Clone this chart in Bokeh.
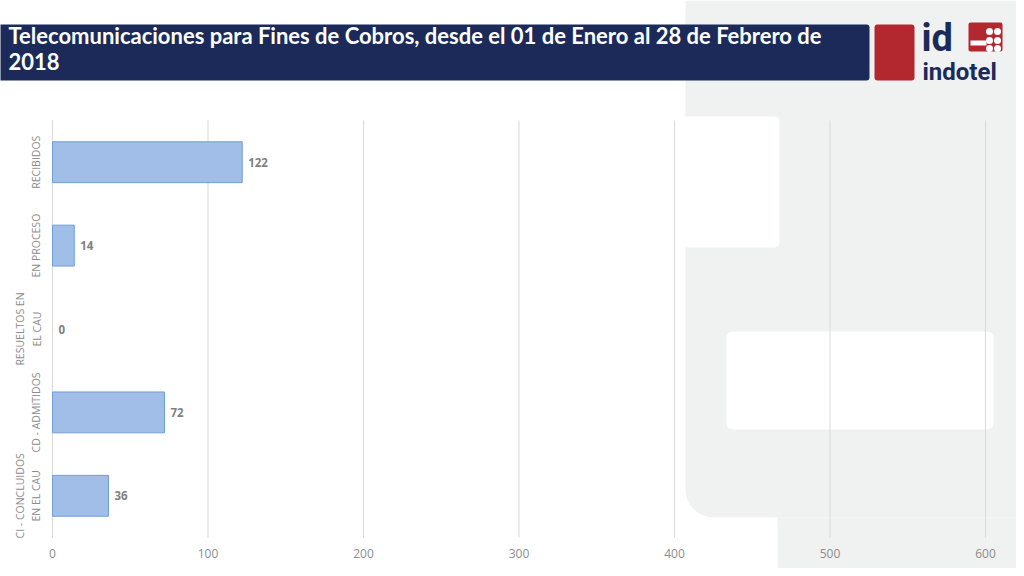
from bokeh.plotting import figure
from bokeh.models import BoxAnnotation, Label, Range1d, FixedTicker, ColumnDataSource
from bokeh.core.properties import value
from bokeh.embed import file_html
from bokeh.resources import INLINE

# ---- data ----
categories = ["RECIBIDOS", "EN PROCESO", "RESUELTOS EN\nEL CAU", "CD - ADMITIDOS", "CI - CONCLUIDOS\nEN EL CAU"]
values = [122, 14, 0, 72, 36]
x_ticks = [0, 100, 200, 300, 400, 500, 600]
title_line1 = "Telecomunicaciones para Fines de Cobros, desde el 01 de Enero al 28 de Febrero de"
title_line2 = "2018"
logo_top = "id"
logo_bottom = "indotel"

NAVY = "#1b2a59"
RED = "#b3272e"
GRAY_BG = "#f0f1f1"

# ---- layout geometry (canvas pixels) ----
W, H = 1016, 568
PLOT_L, PLOT_R = 52, 985          # x = 0 .. 600
PLOT_T, PLOT_B = 120, 537         # category band
n = len(categories)
band = (PLOT_B - PLOT_T) / n
xmax = x_ticks[-1]
sx = (PLOT_R - PLOT_L) / xmax
x_start = -PLOT_L / sx
x_end = (W - PLOT_L) / sx
# y: category index from bottom (0) to top (n-1); value v -> px = PLOT_B - (v + 0.5) * band
y_start = (PLOT_B - H) / band - 0.5
y_end = PLOT_B / band - 0.5

y_pos = [n - 1 - i for i in range(n)]
src = ColumnDataSource(dict(y=y_pos, v=values, lab=[str(v) for v in values],
                            la=[1.0 if v > 0 else 0.0 for v in values]))

p = figure(width=W, height=H, output_backend="svg", toolbar_location=None,
           x_range=Range1d(x_start, x_end), y_range=Range1d(y_start, y_end),
           min_border=0)
p.background_fill_color = "white"
p.border_fill_color = "white"
p.outline_line_color = None
p.grid.visible = False


def box(l, t, r, b, color, radius=0, level="image"):
    ba = BoxAnnotation(left=l, right=r, top=t, bottom=b,
                       left_units="canvas", right_units="canvas",
                       top_units="canvas", bottom_units="canvas",
                       fill_color=color, fill_alpha=1.0, line_color=None,
                       level=level, border_radius=radius)
    p.add_layout(ba)


def label(x, baseline, text, size, color, font, style="normal"):
    # empirical shift: the label's anchor sits about 0.35 em below the alphabetic baseline
    lb = Label(x=x, y=baseline - 0.35 * size, x_units="canvas", y_units="canvas", text=text,
               text_font_size=f"{size}px", text_color=color, text_font=font,
               text_font_style=style, text_baseline="alphabetic", text_align="left",
               level="overlay")
    p.add_layout(lb)


# background decorations
box(685, 0, 1030, 517, GRAY_BG, radius=(0, 0, 0, 28))
box(777, 517, 1030, 580, GRAY_BG)
box(680, 116, 779, 247, "white", radius=(0, 5, 5, 0))
box(726, 331, 993, 429, "white", radius=6)
box(680, 517, 777, 580, "white", radius=(0, 5, 0, 0))

# title banner
box(-5, 24, 869, 80, NAVY, radius=(0, 3, 3, 0), level="overlay")
box(874, 24, 914, 80, RED, radius=3, level="overlay")
label(8, 43, title_line1, 22, "white", "Lato", "bold")
label(8, 69, title_line2, 22, "white", "Lato", "bold")

# logo
box(968, 22, 1002, 51, RED, radius=2, level="overlay")
box(970, 40, 986, 45, "white", level="overlay")
for cx in (989, 997):
    for cy in (31, 40, 48):
        box(cx - 3.5, cy - 3.5, cx + 3.5, cy + 3.5, "white", radius=4, level="overlay")
label(921, 51, logo_top, 38, NAVY, "Roboto", "bold")
label(922, 80, logo_bottom, 24, NAVY, "Roboto", "bold")

# vertical gridlines across the plot area only
p.segment(x0=x_ticks, x1=x_ticks, y0=[-0.5] * len(x_ticks), y1=[n - 0.5] * len(x_ticks),
          line_color="#d9d9d9", line_width=1)

# bars
p.hbar(y="y", right="v", left=0, height=0.49, source=src,
       fill_color="#a0bee7", line_color="#6f9fd4", line_width=1, line_alpha="la")
p.text(x="v", y="y", text="lab", source=src, x_offset=6,
       text_baseline="middle", text_align="left",
       text_font=value("Open Sans"), text_font_style="bold",
       text_font_size="11.5px", text_color="#7f7f7f")

# axes (fixed inside the full-canvas frame)
p.xaxis.fixed_location = -0.5
p.xaxis.ticker = FixedTicker(ticks=x_ticks)
p.xaxis.axis_line_color = None
p.xaxis.major_tick_line_color = None
p.xaxis.minor_tick_line_color = None
p.xaxis.major_label_text_font = "Open Sans"
p.xaxis.major_label_text_font_size = "12px"
p.xaxis.major_label_text_color = "#8c8c8c"
p.xaxis.major_label_standoff = 5

p.yaxis.fixed_location = 0
p.yaxis.ticker = FixedTicker(ticks=y_pos)
p.yaxis.major_label_overrides = {yp: c for yp, c in zip(y_pos, categories)}
p.yaxis.axis_line_color = None
p.yaxis.major_tick_line_color = None
p.yaxis.minor_tick_line_color = None
p.yaxis.major_label_orientation = "vertical"
p.yaxis.major_label_text_font = "Open Sans"
p.yaxis.major_label_text_font_size = "10.5px"
p.yaxis.major_label_text_color = "#8c8c8c"
p.yaxis.major_label_standoff = 3

open("out.html", "w").write(file_html(p, INLINE))
